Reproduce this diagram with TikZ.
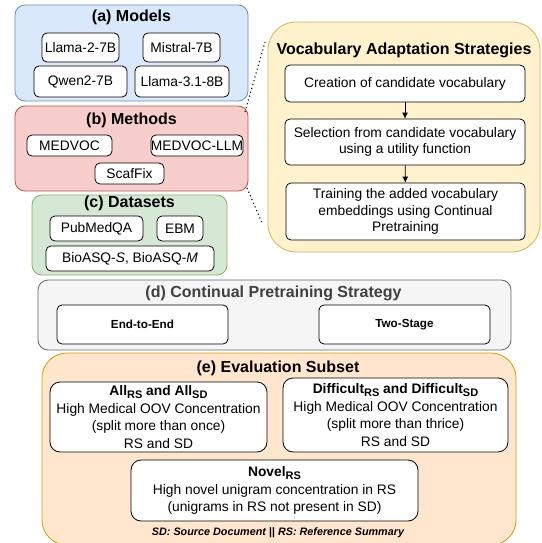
\documentclass[tikz,border=0pt]{standalone}
\usepackage{fontspec}
\setmainfont{Liberation Sans}
\usetikzlibrary{arrows,arrows.meta,positioning,shapes}
\definecolor{blueF}{HTML}{DAE8FC}
\definecolor{blueD}{HTML}{6C8EBF}
\definecolor{redF}{HTML}{F8CECC}
\definecolor{redD}{HTML}{B85450}
\definecolor{greenF}{HTML}{D5E8D4}
\definecolor{greenD}{HTML}{82B366}
\definecolor{yelF}{HTML}{FFF2CC}
\definecolor{yelD}{HTML}{D6B656}
\definecolor{grayF}{HTML}{F5F5F5}
\definecolor{grayD}{HTML}{666666}
\definecolor{grayT}{HTML}{404040}
\definecolor{orF}{HTML}{FFE6CC}
\definecolor{orD}{HTML}{D79B00}
\newcommand\grpfont{\fontsize{16}{19}\selectfont\bfseries}
\newcommand\itmfont{\fontsize{13.8}{16.5}\selectfont}
\newcommand\evlfont{\fontsize{13.8}{17.5}\selectfont}
\newcommand\smlfont{\fontsize{11.7}{14}\selectfont\bfseries}
\newcommand\notefont{\fontsize{10.8}{13}\selectfont\bfseries\itshape}
\newcommand\lowsub[1]{\raisebox{-0.45ex}{\fontsize{11}{11}\selectfont #1}}
\tikzset{
  grp/.style={draw,line width=0.8pt,rounded corners=10pt},
  itm/.style={draw,line width=0.8pt,rounded corners=5pt,fill=white,inner sep=0pt,align=center,font=\itmfont},
  ttl/.style={font=\grpfont},
  flow/.style={-{Latex[length=6pt,width=6pt]},line width=0.8pt},
}

\begin{document}
\begin{tikzpicture}[x=1pt,y=-1pt]
	\useasboundingbox (0,0) rectangle (541,543);
	
	% (a) Models
	\node[grp,fill=blueF,draw=blueD,minimum width=233pt,minimum height=96pt] at (131.5,53) (mod) {};
	\node[ttl] at (131.5,17) (modt) {(a) Models};
	\node[itm,minimum width=77pt,minimum height=29pt] at (80.5,47.5) (llama2) {Llama-2-7B};
	\node[itm,minimum width=77pt,minimum height=29pt] at (181.5,47.5) (mistral) {Mistral-7B};
	\node[itm,minimum width=93pt,minimum height=31pt] at (80.5,81.5) (qwen) {Qwen2-7B};
	\node[itm,minimum width=94pt,minimum height=31pt] at (182,81.5) (llama31) {Llama-3.1-8B};
	
	% (b) Methods
	\node[grp,fill=redF,draw=redD,minimum width=233pt,minimum height=85pt] at (131.5,148.5) (meth) {};
	\node[ttl] at (131.5,120) (metht) {(b) Methods};
	\node[itm,minimum width=85pt,minimum height=21pt] at (69.5,145.5) (medvoc) {MEDVOC};
	\node[itm,minimum width=92pt,minimum height=21pt] at (197,145.5) (medllm) {MEDVOC-LLM};
	\node[itm,minimum width=69pt,minimum height=21pt] at (129.5,173.5) (scaf) {ScafFix};
	
	% (c) Datasets
	\node[grp,fill=greenF,draw=greenD,minimum width=195pt,minimum height=80pt] at (129.5,235) (data) {};
	\node[ttl] at (129.5,203) (datat) {(c) Datasets};
	\node[itm,minimum width=93pt,minimum height=25pt] at (96.5,228.5) (pubmed) {PubMedQA};
	\node[itm,minimum width=46pt,minimum height=25pt] at (180,228.5) (ebm) {EBM};
	\node[itm,minimum width=168pt,minimum height=25pt] at (130,258.5) (bioasq) {BioASQ-\textit{S}, BioASQ-\textit{M}};
	
	% vocabulary adaptation
	\node[grp,rounded corners=28pt,fill=yelF,draw=yelD,minimum width=272pt,minimum height=230pt] at (404,137) (voc) {};
	\node[ttl] at (404,50) (voct) {Vocabulary Adaptation Strategies};
	\node[itm,minimum width=240pt,minimum height=37pt] at (405,83.5) (creat) {Creation of candidate vocabulary};
	\node[itm,minimum width=240pt,minimum height=46pt] at (405,142) (select) {Selection from candidate vocabulary\\using a utility function};
	\node[itm,minimum width=239pt,minimum height=57pt] at (405.5,211.5) (train) {Training the added vocabulary\\embeddings using Continual\\Pretraining};
	\draw[flow] (creat) -- (select);
	\draw[flow] (select) -- (train);
	
	\coordinate (m1) at (245,112);
	\coordinate (v1) at (265,42);
	\coordinate (m2) at (247,188);
	\coordinate (v2) at (262,223);
	\draw[line width=1.1pt,dash pattern=on 1.1pt off 2.9pt] (m1) -- (v1);
	\draw[line width=1.1pt,dash pattern=on 1.1pt off 2.9pt] (m2) -- (v2);
	
	% (d) Continual pretraining
	\node[grp,fill=grayF,draw=grayD,minimum width=473pt,minimum height=70pt] at (274.5,315) (cpt) {};
	\node[ttl,text=grayT] at (273.5,293) (cptt) {(d) Continual Pretraining Strategy};
	\node[itm,font=\smlfont,minimum width=171pt,minimum height=39pt] at (142.5,324.5) (e2e) {End-to-End};
	\node[itm,font=\smlfont,minimum width=171pt,minimum height=39pt] at (404.5,324.5) (two) {Two-Stage};
	
	% (e) Evaluation subset
	\node[grp,rounded corners=25pt,fill=orF,draw=orD,minimum width=474pt,minimum height=192pt] at (279,449) (eval) {};
	\node[ttl] at (278,368) (evalt) {(e) Evaluation Subset};
	\node[itm,font=\evlfont,rounded corners=10pt,minimum width=217pt,minimum height=70pt] at (158.5,417) (all) {\textbf{All\lowsub{RS} and All\lowsub{SD}}\\High Medical OOV Concentration\\(split more than once)\\RS and SD};
	\node[itm,font=\evlfont,rounded corners=10pt,minimum width=225pt,minimum height=74pt] at (395.5,415) (diff) {\textbf{Difficult\lowsub{RS} and Difficult\lowsub{SD}}\\High Medical OOV Concentration\\(split more than thrice)\\RS and SD};
	\node[itm,font=\evlfont,rounded corners=10pt,minimum width=287pt,minimum height=61pt] at (274.5,490.5) (novel) {\textbf{Novel\lowsub{RS}}\\High novel unigram concentration in RS\\(unigrams in RS not present in SD)};
	\node[font=\notefont] at (278,533) (note) {SD: Source Document || RS: Reference Summary};

\end{tikzpicture}
\end{document}
